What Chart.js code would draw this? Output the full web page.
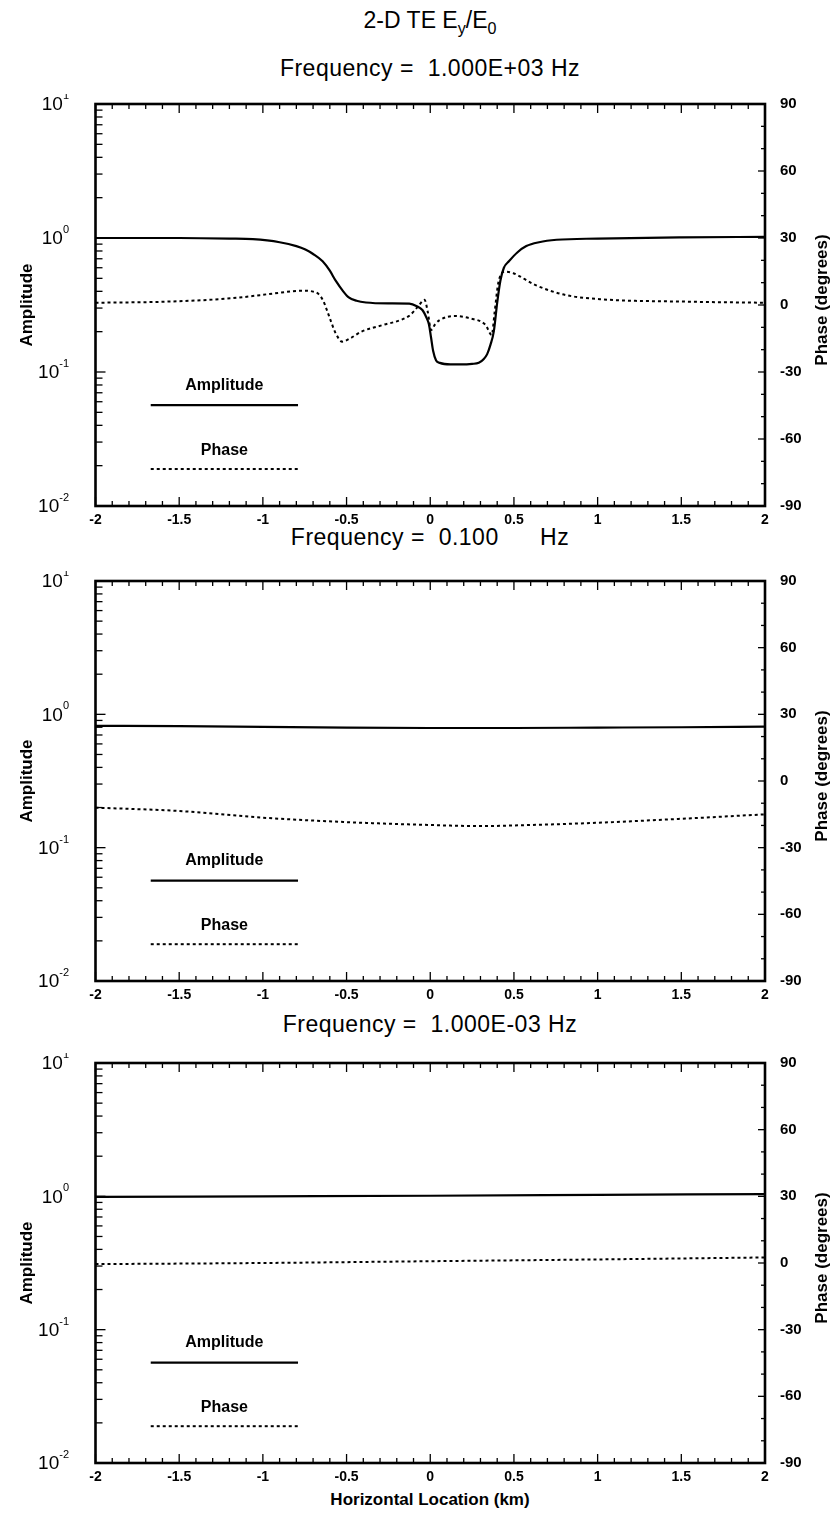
<!DOCTYPE html>
<html><head><meta charset="utf-8">
<script src="https://cdn.jsdelivr.net/npm/chart.js@4.4.1/dist/chart.umd.min.js"></script>
<style>
body{margin:0;background:#fff;width:839px;height:1524px;position:relative;overflow:hidden;font-family:"Liberation Sans",Arial,sans-serif;color:#000;}
.t{position:absolute;left:0;width:860px;text-align:center;white-space:pre;}
canvas{position:absolute;left:0;}
sub{font-size:70%;}
</style></head><body>
<div class="t" style="top:7px;font-size:23px;">2-D TE E<sub>y</sub>/E<sub>0</sub></div>
<div class="t" style="top:55px;font-size:23px;letter-spacing:0.5px;">Frequency =  1.000E+03 Hz</div>
<div class="t" style="top:524px;font-size:23px;letter-spacing:0.5px;">Frequency =  0.100      Hz</div>
<div class="t" style="top:1011px;font-size:23px;letter-spacing:0.5px;">Frequency =  1.000E-03 Hz</div>
<div class="t" style="top:1490px;font-size:17px;font-weight:bold;">Horizontal Location (km)</div>
<canvas id="c1" width="839" height="442" style="top:94px"></canvas>
<canvas id="c2" width="839" height="440" style="top:571px"></canvas>
<canvas id="c3" width="839" height="440" style="top:1053px"></canvas>
<script>
// ---- data ----
const xTickLabels = [-2, -1.5, -1, -0.5, 0, 0.5, 1, 1.5, 2];
const ampDecades = [0.01, 0.1, 1, 10];
const phaseTicks = [-90, -60, -30, 0, 30, 60, 90];

// Panel 1: f = 1.000E+03 Hz
const amp1X = [-2.0,-1.5,-1.2,-1.06,-0.90,-0.80,-0.746,-0.70,-0.643,-0.60,-0.565,-0.52,-0.487,-0.44,-0.384,-0.25,-0.125,-0.08,-0.047,-0.02,-0.008,0.005,0.017,0.035,0.057,0.12,0.186,0.25,0.29,0.32,0.34,0.36,0.38,0.40,0.419,0.44,0.47,0.52,0.574,0.65,0.755,1.0,1.5,2.0];
const amp1Y = [1.00,1.00,0.99,0.98,0.93,0.87,0.82,0.76,0.67,0.57,0.48,0.40,0.36,0.34,0.33,0.325,0.324,0.31,0.29,0.25,0.227,0.18,0.144,0.122,0.117,0.114,0.114,0.115,0.117,0.125,0.136,0.16,0.202,0.33,0.48,0.60,0.67,0.78,0.87,0.93,0.97,0.99,1.01,1.02];
const ph1X = [-2.0,-1.575,-1.19,-0.93,-0.80,-0.746,-0.70,-0.669,-0.64,-0.618,-0.59,-0.565,-0.526,-0.48,-0.41,-0.28,-0.176,-0.12,-0.073,-0.034,-0.015,0.005,0.03,0.057,0.147,0.238,0.33,0.367,0.385,0.406,0.445,0.497,0.626,0.807,1.014,1.53,2.0];
const ph1Y = [1,1.5,3,5.2,6.3,6.4,6,5,2,-2.2,-8,-12.7,-16.4,-15,-11.9,-8.9,-6.7,-4.5,-0.7,2.3,-3,-11.2,-8.5,-6.7,-4.9,-6,-8.9,-13.4,-3,9.7,14.9,14.2,9,4.5,2.6,1.5,1];

// Panel 2: f = 0.100 Hz
const amp2X = [-2,-1.5,-1,-0.5,0,0.5,1,1.5,2];
const amp2Y = [0.82,0.815,0.805,0.795,0.79,0.79,0.795,0.80,0.81];
const ph2X = [-2,-1.5,-1,-0.5,0,0.3,0.5,1,1.5,2];
const ph2Y = [-12,-13.5,-16.5,-18.5,-19.8,-20.3,-20,-18.8,-17,-15];

// Panel 3: f = 1.000E-03 Hz
const amp3X = [-2,-1,0,1,2];
const amp3Y = [0.99,1.0,1.01,1.025,1.04];
const ph3X = [-2,-1,0,1,2];
const ph3Y = [-0.5,0,0.8,1.6,2.5];

// ---- drawing ----
const FAM = '"Liberation Sans", Arial, sans-serif';
const pts = (xs, ys) => xs.map((x, i) => ({x, y: ys[i]}));

const framePlugin = {
  id: 'frame',
  afterDatasetsDraw(chart) {
    const {ctx, chartArea: a, scales} = chart;
    const xs = scales.x, ys = scales.y, y2 = scales.y2;
    ctx.save();
    ctx.strokeStyle = '#000';
    ctx.lineWidth = 1.3;
    for (let i = -20; i <= 20; i++) {
      const px = xs.getPixelForValue(i / 10);
      const L = (i % 5 === 0) ? 9 : 5;
      ctx.beginPath();
      ctx.moveTo(px, a.bottom); ctx.lineTo(px, a.bottom - L);
      ctx.moveTo(px, a.top); ctx.lineTo(px, a.top + L);
      ctx.stroke();
    }
    for (let e = -2; e <= 1; e++) {
      for (let m = 1; m <= 9; m++) {
        const v = m * Math.pow(10, e);
        if (v > 10.0001) continue;
        const py = ys.getPixelForValue(v);
        const L = m === 1 ? 10 : 7;
        ctx.beginPath(); ctx.moveTo(a.left, py); ctx.lineTo(a.left + L, py); ctx.stroke();
      }
    }
    for (let d = -90; d <= 90; d += 10) {
      const py = y2.getPixelForValue(d);
      const L = d % 30 === 0 ? 7 : 4;
      ctx.beginPath(); ctx.moveTo(a.right, py); ctx.lineTo(a.right - L, py); ctx.stroke();
    }
    ctx.lineWidth = 2.6;
    ctx.strokeRect(a.left, a.top, a.right - a.left, a.bottom - a.top);
    // left labels 10^n
    ctx.fillStyle = '#000';
    ctx.textBaseline = 'middle';
    ampDecades.forEach(v => {
      const py = ys.getPixelForValue(v);
      const e = String(Math.round(Math.log10(v)));
      ctx.font = '11px ' + FAM;
      const ew = ctx.measureText(e).width;
      ctx.textAlign = 'right';
      ctx.fillText(e, 69, py - 8);
      ctx.font = '19px ' + FAM;
      ctx.fillText('10', 69 - ew, py + 1);
    });
    // axis titles
    ctx.font = 'bold 17px ' + FAM;
    ctx.textAlign = 'center';
    const cy = (a.top + a.bottom) / 2;
    ctx.save(); ctx.translate(27, cy); ctx.rotate(-Math.PI / 2); ctx.fillText('Amplitude', 0, 0); ctx.restore();
    ctx.save(); ctx.translate(822, cy - 5); ctx.rotate(-Math.PI / 2); ctx.fillText('Phase (degrees)', 0, 0); ctx.restore();
    // legend
    const h = a.bottom - a.top;
    const lx0 = xs.getPixelForValue(-1.67), lx1 = xs.getPixelForValue(-0.79);
    ctx.font = 'bold 16px ' + FAM;
    ctx.fillText('Amplitude', (lx0 + lx1) / 2, a.top + h * 0.70);
    ctx.fillText('Phase', (lx0 + lx1) / 2, a.top + h * 0.862);
    ctx.lineWidth = 2.2;
    ctx.beginPath(); ctx.moveTo(lx0, a.top + h * 0.749); ctx.lineTo(lx1, a.top + h * 0.749); ctx.stroke();
    ctx.setLineDash([3, 3]); ctx.lineWidth = 2;
    ctx.beginPath(); ctx.moveTo(lx0, a.top + h * 0.908); ctx.lineTo(lx1, a.top + h * 0.908); ctx.stroke();
    ctx.restore();
  }
};

function makePanel(id, ax, ay, px, py) {
  return new Chart(document.getElementById(id), {
    type: 'line',
    data: { datasets: [
      { data: pts(ax, ay), yAxisID: 'y', borderColor: '#000', borderWidth: 2.2, pointRadius: 0, cubicInterpolationMode: 'monotone', fill: false },
      { data: pts(px, py), yAxisID: 'y2', borderColor: '#000', borderWidth: 2, borderDash: [3, 3], pointRadius: 0, cubicInterpolationMode: 'monotone', fill: false }
    ]},
    options: {
      responsive: false, animation: false, maintainAspectRatio: false,
      layout: { padding: { top: 10, left: 0, right: 0, bottom: 0 } },
      plugins: { legend: { display: false }, tooltip: { enabled: false }, title: { display: false } },
      scales: {
        x: { type: 'linear', min: -2, max: 2,
             grid: { display: false, drawTicks: false }, border: { display: false },
             afterBuildTicks(s) { s.ticks = xTickLabels.map(v => ({value: v})); },
             ticks: { color: '#000', font: { family: FAM, size: 14, weight: 'bold' }, padding: 6, maxRotation: 0, autoSkip: false,
                      callback: v => String(v) },
             afterFit(s) { s.height = 30; s.paddingLeft = 0; s.paddingRight = 0; } },
        y: { type: 'logarithmic', min: 0.01, max: 10, position: 'left',
             grid: { display: false, drawTicks: false }, border: { display: false },
             afterBuildTicks(s) { s.ticks = ampDecades.map(v => ({value: v})); },
             ticks: { display: false },
             afterFit(s) { s.width = 95.5; s.paddingTop = 0; s.paddingBottom = 0; } },
        y2: { type: 'linear', min: -90, max: 90, position: 'right',
              grid: { display: false, drawTicks: false }, border: { display: false },
              afterBuildTicks(s) { s.ticks = phaseTicks.map(v => ({value: v})); },
              ticks: { color: '#000', font: { family: FAM, size: 15, weight: 'bold' }, padding: 15, autoSkip: false,
                       callback: v => String(v) },
              afterFit(s) { s.width = 74; s.paddingTop = 0; s.paddingBottom = 0; } }
      }
    },
    plugins: [framePlugin]
  });
}

makePanel('c1', amp1X, amp1Y, ph1X, ph1Y);
makePanel('c2', amp2X, amp2Y, ph2X, ph2Y);
makePanel('c3', amp3X, amp3Y, ph3X, ph3Y);
</script>
</body></html>
